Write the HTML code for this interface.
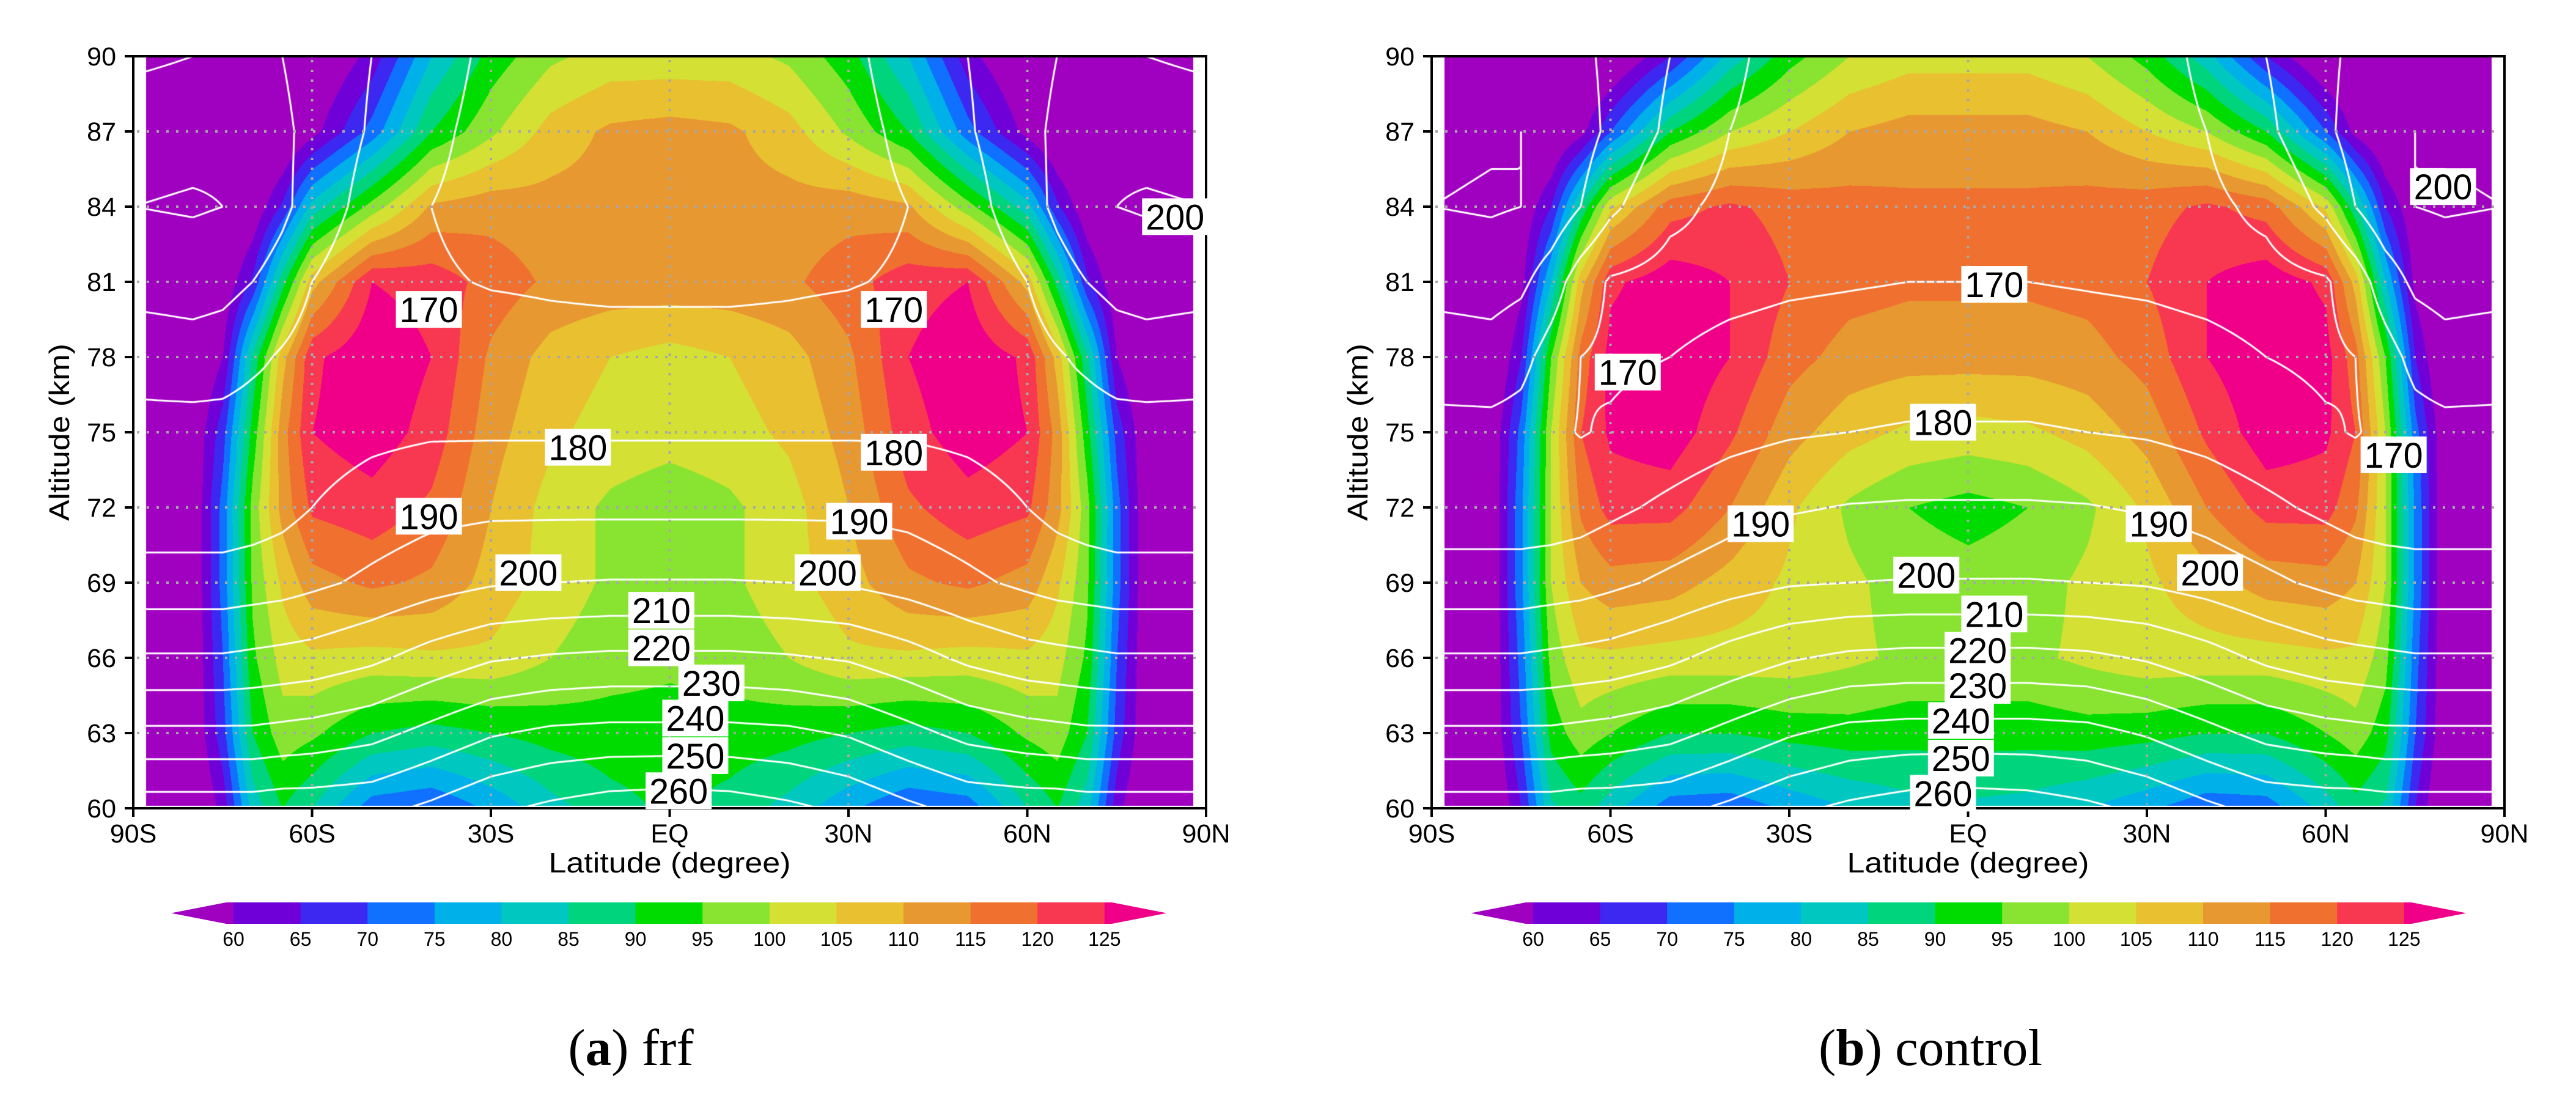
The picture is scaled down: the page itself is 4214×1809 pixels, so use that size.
<!DOCTYPE html>
<html><head><meta charset="utf-8">
<style>
html,body{margin:0;padding:0;background:#fff;}
#root{position:relative;width:4214px;height:1809px;overflow:hidden;background:#fff;}
canvas{position:absolute;}
svg{position:absolute;left:0;top:0;}
</style></head>
<body>
<div id="root">
<canvas id="cvA" width="1755" height="1230" style="left:218px;top:92px"></canvas>
<canvas id="cvB" width="1755" height="1230" style="left:2342px;top:92px"></canvas>
<svg id="ov" width="4214" height="1809" xmlns="http://www.w3.org/2000/svg"></svg>
</div>
<script>
// ---- data ----
const LATS=[0,10,20,30,40,50,60,65,70,75,80,90];
const ALTS=[90,87,84,81,78,75,72,69,66,63,60];
const frfField=[
[102,102,99,92,80,62,52,50,50,50,50,50],
[112,111,107,99,90,72,58,52,50,50,50,50],
[112,112,112,113,111,97,82,66,55,50,50,50],
[113,113,114,118,123,125,108,88,66,55,50,50],
[103,105,108,114,125,129,124,108,86,60,52,50],
[102,103,106,112,123,128,125,113,92,68,55,50],
[97,99,103,110,119,123,121,112,97,72,55,50],
[97,99,103,108,114,116,113,106,96,72,55,50],
[96,97,100,104,104,103,104,102,94,70,55,50],
[93,93,92,90,88,90,96,98,90,68,55,50],
[91,88,83,76,70,72,85,90,82,62,52,50]];
const ctlField=[
[103,103,100,93,82,65,52,50,50,50,50,50],
[112,112,110,105,100,90,70,58,52,50,50,50],
[116,116,117,118,121,118,104,86,65,55,50,50],
[116,116,117,120,125,128,124,108,80,58,50,50],
[112,112,113,117,125,129,127,117,95,65,52,50],
[103,104,107,112,121,128,126,120,100,72,55,50],
[93,95,99,106,115,122,122,116,100,74,55,50],
[97,98,101,104,108,112,113,110,100,74,55,50],
[99,99,101,103,103,103,104,104,97,72,55,50],
[92,92,93,92,90,90,95,98,92,70,55,50],
[84,83,80,76,71,72,82,88,84,65,52,50]];
const frfTemp=[
[163,163,164,168,174,180,186,190,192,192,190,188],
[164,164,165,167,172,179,187,192,196,198,197,196],
[166,166,166,167,170,176,186,192,197,200,201,200],
[168.5,168.5,169,169.5,171,173,180,186,190,193,194,193],
[173,173,173,174,175,174,176,179,182,185,186,185],
[179,179,179,179,179,178,176,175,175,176,176,176],
[188,188,188,188,187,184,180,177,175,174,174,174],
[200.5,200.5,200,199,196,192,188,186,185,184,184,184],
[222,222,221,219,214,208,204,203,202,201,201,201],
[243,243,242,239,233,227,224,223,222,222,222,222],
[266,265,262,258,252,247,246,246,245,245,245,245]];
const ctlTemp=[
[162,162,163,166,172,180,188,192,194,194,192,190],
[163,163,164,166,170,178,188,194,198,200,199,198],
[166,166,166,167,168,172,182,190,197,200,201,200],
[170,170,169.5,169,168,167,169,175,185,192,194,193],
[174,174,173.5,173,172,170,168.5,170,176,183,186,185],
[181,181,180,179,177,174,171,169.5,172,176,177,177],
[191,191,190.5,189,186,182,178,176,175,175,175,175],
[200.5,200.5,200,199,196,192,188,186,185,184,184,184],
[223,223,222,219,214,208,204,203,202,201,201,201],
[244,244,243,239,233,227,224,223,222,222,222,222],
[266,265,262,258,252,247,246,246,245,245,245,245]];
const contourLevels=[160,170,180,190,200,210,220,230,240,250,260,270];
const frfLabelVals=[170,170,180,180,190,190,200,200,210,220,230,240,250,260,200];
const frfLabelLat=[-40.4,37.6,-15.4,37.6,-40.4,31.8,-23.7,26.5,-1.4,-1.4,7,4.3,4.3,1.5,84.8];
const frfLabelAlt=[79.9,79.9,74.4,74.2,71.65,71.45,69.4,69.4,67.9,66.4,65,63.6,62.1,60.7,83.6];
const ctlLabelVals=[170,170,170,180,190,190,200,200,200,210,220,230,240,250,260];
const ctlLabelLat=[4.4,-57.1,71.4,-4.2,-34.8,32,-7,40.6,79.7,4.4,1.6,1.6,-1.2,-1.2,-4.2];
const ctlLabelAlt=[80.9,77.4,74.1,75.4,71.35,71.35,69.3,69.4,84.8,67.75,66.3,64.9,63.5,62,60.6];
const cbarLevels=[60,65,70,75,80,85,90,95,100,105,110,115,120,125];
const cbarColors=['#a000c0','#7000d8','#3c28f0','#1070ff','#00b0e8','#00c8c0','#00d47c','#00dc00','#88e430','#d4e034','#e8c030','#e89830','#f07030','#f83850','#f00088'];
const xTickVals=[-90,-60,-30,0,30,60,90];
const xTickLabels=['90S','60S','30S','EQ','30N','60N','90N'];
const yTickVals=[60,63,66,69,72,75,78,81,84,87,90];

// ---- geometry ----
const PW=1755, PH=1230, PTOP=92;
function xs(left,lat){return left+(lat+90)/180*PW;}
function ys(alt){return PTOP+(90-alt)/30*PH;}

function interp(g,lat,alt){
  const a=Math.min(90,Math.abs(lat));
  let j=0; while(j<LATS.length-2 && a>LATS[j+1]) j++;
  const tx=(a-LATS[j])/(LATS[j+1]-LATS[j]);
  let r=(90-alt)/3; let i=Math.floor(r); if(i<0)i=0; if(i>ALTS.length-2)i=ALTS.length-2;
  const ty=Math.max(0,Math.min(1,r-i));
  const v00=g[i][j],v01=g[i][j+1],v10=g[i+1][j],v11=g[i+1][j+1];
  return (v00*(1-tx)+v01*tx)*(1-ty)+(v10*(1-tx)+v11*tx)*ty;
}
function hex(c){return [parseInt(c.substr(1,2),16),parseInt(c.substr(3,2),16),parseInt(c.substr(5,2),16)];}
const rgb=cbarColors.map(hex);
function colIdx(v){if(v<cbarLevels[0])return 0;for(let k=1;k<cbarLevels.length;k++){if(v<cbarLevels[k])return k;}return cbarLevels.length;}

function drawField(cv,field,temp){
  const ctx=cv.getContext('2d');
  const img=ctx.createImageData(PW,PH);const d=img.data;
  const m=21;
  for(let py=0;py<PH-4;py++){
    const alt=90-py*30/PH;
    for(let px=m;px<PW-m;px++){
      const lat=-90+px*180/PW;
      const c=rgb[colIdx(interp(field,lat,alt))];
      const o=(py*PW+px)*4;d[o]=c[0];d[o+1]=c[1];d[o+2]=c[2];d[o+3]=255;
    }
  }
  ctx.putImageData(img,0,0);
  ctx.save();ctx.beginPath();ctx.rect(m,0,PW-2*m,PH-4);ctx.clip();
  ctx.strokeStyle='#ffffff';ctx.lineWidth=3;ctx.lineJoin='round';
  const nx=361,ny=151;const S=[];
  for(let i=0;i<ny;i++){S.push([]);const alt=90-i*30/(ny-1);for(let j=0;j<nx;j++){S[i].push(interp(temp,-90+j*180/(nx-1),alt));}}
  const dx=PW/(nx-1),dy=PH/(ny-1);
  ctx.beginPath();
  for(const L of contourLevels){
    for(let i=0;i<ny-1;i++)for(let j=0;j<nx-1;j++){
      const a=S[i][j],b=S[i][j+1],c=S[i+1][j+1],e=S[i+1][j];
      const pts=[];
      function ed(v1,v2,x1,y1,x2,y2){if((v1<L)!==(v2<L)){const t=(L-v1)/(v2-v1);pts.push([x1+(x2-x1)*t,y1+(y2-y1)*t]);}}
      const X=j*dx,Y=i*dy;
      ed(a,b,X,Y,X+dx,Y);ed(b,c,X+dx,Y,X+dx,Y+dy);ed(c,e,X+dx,Y+dy,X,Y+dy);ed(e,a,X,Y+dy,X,Y);
      for(let k=0;k+1<pts.length;k+=2){ctx.moveTo(pts[k][0],pts[k][1]);ctx.lineTo(pts[k+1][0],pts[k+1][1]);}
    }
  }
  ctx.stroke();ctx.restore();
}
drawField(document.getElementById('cvA'),frfField,frfTemp);
drawField(document.getElementById('cvB'),ctlField,ctlTemp);

// ---- SVG overlay ----
const NS='http://www.w3.org/2000/svg';
const ov=document.getElementById('ov');
function mk(tag,attrs,parent){const e=document.createElementNS(NS,tag);for(const k in attrs)e.setAttribute(k,attrs[k]);(parent||ov).appendChild(e);return e;}
const FONT='"Liberation Sans", "DejaVu Sans", sans-serif';

function panel(left,cbLeft,capX,capLetter,capWord,lv,lla,lal,name){
  const g=mk('g',{});
  
  
  const right=left+PW, bottom=PTOP+PH;
  for(const v of yTickVals){if(v===60||v===90)continue;const y=ys(v);
    const l=mk('line',{x1:left+6,x2:right-6,y1:y,y2:y,stroke:'#a8a8a8','stroke-width':4,'stroke-dasharray':'4 12'},g);
    }
  for(const v of xTickVals){if(v===-90||v===90)continue;const x=xs(left,v);
    const l=mk('line',{x1:x,x2:x,y1:PTOP+6,y2:bottom-6,stroke:'#a8a8a8','stroke-width':4,'stroke-dasharray':'4 12'},g);
    }
  const fr=mk('rect',{x:left,y:PTOP,width:PW,height:PH,fill:'none',stroke:'#000','stroke-width':4},g);
  
  for(const v of yTickVals){const y=ys(v);
    const t=mk('line',{x1:left-14,x2:left,y1:y,y2:y,stroke:'#000','stroke-width':4},g);
    
    const tx=mk('text',{x:left-28,y:y+15,'text-anchor':'end','font-family':FONT,'font-size':43,fill:'#000'},g);
    tx.textContent=String(v);
    }
  for(let k=0;k<xTickVals.length;k++){const x=xs(left,xTickVals[k]);
    const t=mk('line',{x1:x,x2:x,y1:bottom,y2:bottom+14,stroke:'#000','stroke-width':4},g);
    
    const tx=mk('text',{x:x,y:1378,'text-anchor':'middle','font-family':FONT,'font-size':43,fill:'#000'},g);
    tx.textContent=xTickLabels[k];
    }
  const xt=mk('text',{x:left+PW/2,y:1427,'text-anchor':'middle','font-family':FONT,'font-size':46,fill:'#000',textLength:396,lengthAdjust:'spacingAndGlyphs'},g);
  xt.textContent='Latitude  (degree)';
  
  const yt=mk('text',{x:0,y:0,'text-anchor':'middle','font-family':FONT,'font-size':46,fill:'#000',textLength:290,lengthAdjust:'spacingAndGlyphs',transform:'translate('+(left-105)+',707) rotate(-90)'},g);
  yt.textContent='Altitude  (km)';
  
  for(let k=0;k<lv.length;k++){const cx=xs(left,lla[k]),cy=ys(lal[k]);
    const lg=mk('g',{},g);
    
    mk('rect',{x:cx-54,y:cy-30,width:108,height:60,fill:'#fff'},lg);
    const tt=mk('text',{x:cx,y:cy+21,'text-anchor':'middle','font-family':FONT,'font-size':58,fill:'#000',textLength:96,lengthAdjust:'spacingAndGlyphs'},lg);
    tt.textContent=String(lv[k]);}
  const step=109.6, cy0=1476, ch=35;
  const cb=mk('g',{},g);
  
  const x60=cbLeft;
  const lt=mk('polygon',{points:(x60-102)+','+(cy0+ch/2)+' '+(x60-12)+','+cy0+' '+x60+','+cy0+' '+x60+','+(cy0+ch)+' '+(x60-12)+','+(cy0+ch),fill:cbarColors[0]},cb);
  
  for(let k=0;k<cbarLevels.length-1;k++){
    const r=mk('rect',{x:x60+k*step,y:cy0,width:step+0.6,height:ch,fill:cbarColors[k+1]},cb);
    }
  const xe=x60+(cbarLevels.length-1)*step;
  const rt=mk('polygon',{points:xe+','+cy0+' '+(xe+12)+','+cy0+' '+(xe+102)+','+(cy0+ch/2)+' '+(xe+12)+','+(cy0+ch)+' '+xe+','+(cy0+ch),fill:cbarColors[cbarColors.length-1]},cb);
  
  for(let k=0;k<cbarLevels.length;k++){
    const t=mk('text',{x:x60+k*step,y:1547,'text-anchor':'middle','font-family':FONT,'font-size':32,fill:'#000'},cb);
    t.textContent=String(cbarLevels[k]);
    }
  const cap=mk('text',{x:capX,y:1742,'text-anchor':'middle','font-family':'"Liberation Serif", "DejaVu Serif", serif','font-size':85,fill:'#000'},g);
  
  const t1=mk('tspan',{},cap);t1.textContent='(';
  const t2=mk('tspan',{'font-weight':'bold'},cap);t2.textContent=capLetter;
  const t3=mk('tspan',{},cap);t3.textContent=') '+capWord;
}
panel(218,382,1032,'a','frf',frfLabelVals,frfLabelLat,frfLabelAlt,'frf');
panel(2342,2508,3158,'b','control',ctlLabelVals,ctlLabelLat,ctlLabelAlt,'control');
</script>
</body></html>
